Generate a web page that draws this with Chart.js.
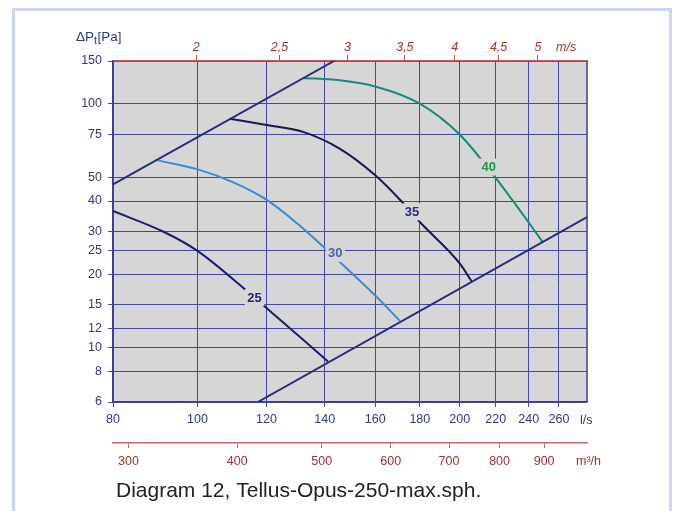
<!DOCTYPE html>
<html><head><meta charset="utf-8">
<script src="https://cdn.jsdelivr.net/npm/chart.js@4.4.1/dist/chart.umd.min.js"></script>
<style>
html,body{margin:0;padding:0;background:#fff;}
#wrap{position:relative;width:681px;height:511px;overflow:hidden;background:#fff;}
#frame{position:absolute;left:12px;top:8px;width:660px;height:560px;border:3px solid #cad6f4;box-sizing:border-box;}
canvas{position:absolute;left:0;top:0;}
</style></head><body>
<div id="wrap"><div id="frame"></div><canvas id="c" width="681" height="511"></canvas></div>
<script>
// ---- data ----
const flowTicks = [80,100,120,140,160,180,200,220,240,260];
const pressureTicks = [6,8,10,12,15,20,25,30,40,50,75,100,150];
const velocityTicks = [2,2.5,3,3.5,4,4.5,5];
const airflowM3hTicks = [300,400,500,600,700,800,900];
const flowRange = [80,280];
const pressureRange = [6,150];
const ductFactor = 49.087;   // l/s per m/s (Ø250 duct)
const m3hFactor = 3.6;       // m³/h per l/s

const systemHighQ = [80,143.5];
const systemHighP = [46.8,150];
const systemLowQ = [117.3,280];
const systemLowP = [6,34.4];

const curve25Q = [80,91.3,100,113.8,119.2,141.2];
const curve25P = [36.4,30,25,17.2,14.9,8.8];
const curve30Q = [90.0,100.3,109.8,120,130,140.3,146.3,160,170.8];
const curve30P = [58.7,53.8,47.8,40.5,32.5,25.5,22.2,16.4,12.9];
const curve35Q = [108.9,120,132.2,145.6,160,170.8,180,200,206.3];
const curve35P = [87,82,76.8,65.6,51,40.5,32.8,22.2,18.8];
const curve40Q = [132.2,145.6,160,180,200,219.5,229.7,249];
const curve40P = [127.8,125,118,100.3,74.9,50.2,40.5,27.2];

const curveNames = ['25','30','35','40'];
const curveLabelQ = [116.3,143.9,176.3,215.9];
const curveLabelP = [16.1,24.4,36.1,55.1];

// ---- styles ----
const FONT = "'Liberation Sans', Arial, sans-serif";
const BLUE_TXT = '#30358f';
const RED_TXT = '#a8302c';
const GRID = '#4646a6';
const PLOT_BG = '#d6d6d6';
const curveColors = ['#1d1d6e','#3d8bd1','#181850','#16897c'];
const labelColors = ['#22237a','#3f63b3','#2a2c82','#1f9a3e'];

const toPts = (qs, ps) => qs.map((q,i)=>({x:q,y:ps[i]}));
const curveDs = (qs, ps, color) => ({data:toPts(qs,ps), borderColor:color, borderWidth:2, pointRadius:0, fill:false, cubicInterpolationMode:'monotone', xAxisID:'x', yAxisID:'y'});
const lineDs = (qs, ps) => ({data:toPts(qs,ps), borderColor:'#2b2b7c', borderWidth:2, pointRadius:0, fill:false, tension:0, xAxisID:'x', yAxisID:'y'});

const setTicks = list => s => { s.ticks = list.map(v=>({value:v})); };

const decor = {
  id:'decor',
  beforeDraw(chart){
    const {ctx, chartArea:a} = chart;
    ctx.save(); ctx.fillStyle = PLOT_BG;
    ctx.fillRect(a.left, a.top, a.right-a.left, a.bottom-a.top);
    ctx.restore();
  },
  beforeDatasetsDraw(chart){
    const {ctx, chartArea:a} = chart;
    ctx.save(); ctx.strokeStyle = '#3c3c98'; ctx.lineWidth = 1.5;
    ctx.beginPath(); ctx.moveTo(a.right, a.top); ctx.lineTo(a.right, a.bottom); ctx.stroke();
    ctx.restore();
  },
  afterDatasetsDraw(chart){
    const {ctx} = chart; const xs = chart.scales.x, ys = chart.scales.y;
    ctx.save();
    ctx.font = "bold 13px " + FONT; ctx.textAlign='center'; ctx.textBaseline='middle';
    curveNames.forEach((t,i)=>{
      const px = xs.getPixelForValue(curveLabelQ[i]), py = ys.getPixelForValue(curveLabelP[i]);
      const w = ctx.measureText(t).width + 5;
      ctx.fillStyle = PLOT_BG; ctx.fillRect(px-w/2, py-8.5, w, 17);
      ctx.fillStyle = labelColors[i]; ctx.fillText(t, px, py+0.5);
    });
    ctx.restore();
  },
  afterDraw(chart){
    const {ctx, chartArea:a} = chart;
    ctx.save();
    // y title
    ctx.fillStyle = BLUE_TXT; ctx.textBaseline='alphabetic'; ctx.textAlign='left';
    ctx.font = "13.5px " + FONT;
    let x = 76; ctx.fillText('ΔP', x, 40.5); x += ctx.measureText('ΔP').width;
    ctx.font = "11px " + FONT; ctx.fillText('t', x, 43.5); x += ctx.measureText('t').width + 0.5;
    ctx.font = "13.5px " + FONT; ctx.fillText('[Pa]', x, 40.5);
    // units
    ctx.textBaseline='middle'; ctx.textAlign='left';
    ctx.font = "italic 12.5px " + FONT; ctx.fillStyle = RED_TXT; ctx.fillText('m/s', 556, 47.5);
    ctx.font = "12.5px " + FONT; ctx.fillStyle = '#3b3b4b'; ctx.fillText('l/s', 580, 420.5);
    ctx.fillStyle = RED_TXT; ctx.fillText('m³/h', 576, 462);
    // caption
    ctx.textBaseline='alphabetic'; ctx.font = "21px " + FONT; ctx.fillStyle = '#222';
    ctx.fillText('Diagram 12, Tellus-Opus-250-max.sph.', 116, 496.5);
    ctx.restore();
  }
};

new Chart(document.getElementById('c'), {
  type:'line',
  data:{datasets:[
    lineDs(systemHighQ, systemHighP),
    lineDs(systemLowQ, systemLowP),
    curveDs(curve25Q, curve25P, curveColors[0]),
    curveDs(curve30Q, curve30P, curveColors[1]),
    curveDs(curve35Q, curve35P, curveColors[2]),
    curveDs(curve40Q, curve40P, curveColors[3])
  ]},
  options:{
    responsive:false, animation:false, devicePixelRatio:1,
    layout:{autoPadding:false, padding:{left:0, right:94, top:30, bottom:38}},
    plugins:{legend:{display:false}, tooltip:{enabled:false}},
    scales:{
      x:{type:'logarithmic', position:'bottom', weight:0, min:flowRange[0], max:flowRange[1],
        afterBuildTicks:setTicks(flowTicks), afterFit:s=>{s.height=41;},
        ticks:{callback:v=>String(v), color:BLUE_TXT, font:{family:FONT, size:12.5}, padding:5, maxRotation:0, autoSkip:false},
        grid:{color:GRID, lineWidth:1, tickLength:5},
        border:{color:'#3c3c98', width:1.5}},
      xm3h:{type:'logarithmic', position:'bottom', weight:1, min:flowRange[0]*m3hFactor, max:flowRange[1]*m3hFactor,
        afterBuildTicks:setTicks(airflowM3hTicks), afterFit:s=>{s.height=30;},
        ticks:{callback:v=>String(v), color:RED_TXT, font:{family:FONT, size:12.5}, padding:6, maxRotation:0, autoSkip:false},
        grid:{drawOnChartArea:false, color:'#c76464', lineWidth:1, tickLength:5},
        border:{color:'#c76464', width:1.5}},
      xv:{type:'logarithmic', position:'top', z:1, min:flowRange[0]/ductFactor, max:flowRange[1]/ductFactor,
        afterBuildTicks:setTicks(velocityTicks), afterFit:s=>{s.height=31;},
        ticks:{callback:v=>String(v).replace('.',','), color:RED_TXT, font:{family:FONT, size:12.5, style:'italic'}, padding:0, maxRotation:0, autoSkip:false},
        grid:{drawOnChartArea:false, color:'#c05050', lineWidth:1, tickLength:6},
        border:{color:'#c35a5a', width:1.5}},
      y:{type:'logarithmic', position:'left', min:pressureRange[0], max:pressureRange[1],
        afterBuildTicks:setTicks(pressureTicks), afterFit:s=>{s.width=113;},
        ticks:{callback:v=>String(v), color:BLUE_TXT, font:{family:FONT, size:12.5}, padding:6, autoSkip:false},
        grid:{color:GRID, lineWidth:1, tickLength:5},
        border:{color:'#3c3c98', width:1.5}}
    }
  },
  plugins:[decor]
});
</script>
</body></html>
